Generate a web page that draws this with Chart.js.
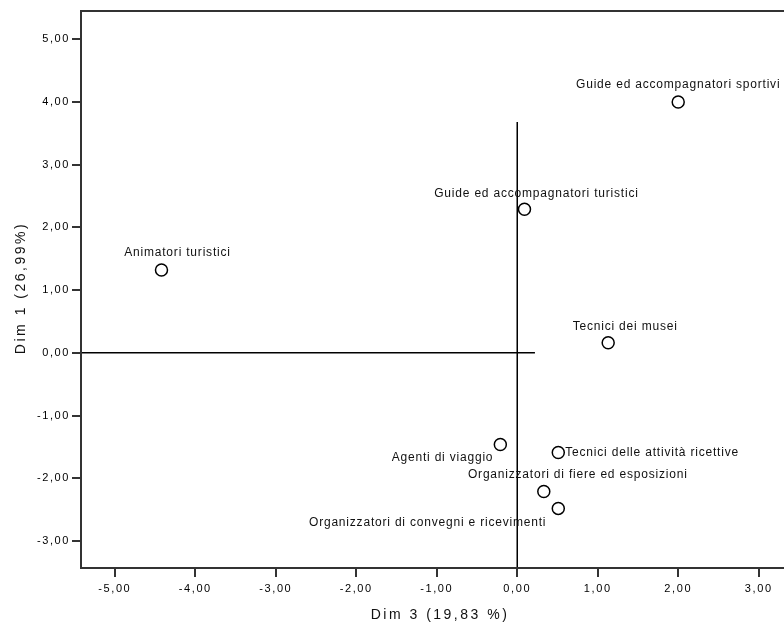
<!DOCTYPE html>
<html>
<head>
<meta charset="utf-8">
<script src="https://cdn.jsdelivr.net/npm/chart.js@4.4.0/dist/chart.umd.min.js"></script>
<style>
  html, body { margin: 0; padding: 0; background: #fff; overflow: hidden; }
  #wrap { width: 800px; height: 624px; }
</style>
</head>
<body>
<div id="wrap"><canvas id="scatter" width="800" height="624"></canvas></div>
<script>
// categories and coordinates (Dim 3 on x, Dim 1 on y)
const categories = [
  'Guide ed accompagnatori sportivi',
  'Guide ed accompagnatori turistici',
  'Animatori turistici',
  'Tecnici dei musei',
  'Agenti di viaggio',
  'Tecnici delle attività ricettive',
  'Organizzatori di fiere ed esposizioni',
  'Organizzatori di convegni e ricevimenti'
];
const dim3 = [2.00, 0.09, -4.42, 1.13, -0.21, 0.51, 0.33, 0.51];
const dim1 = [4.00, 2.29, 1.32, 0.16, -1.46, -1.59, -2.21, -2.48];

const xTicks = [-5, -4, -3, -2, -1, 0, 1, 2, 3];
const yTicks = [-3, -2, -1, 0, 1, 2, 3, 4, 5];
const xRange = [-5.42, 3.42];
const yRange = [-3.43, 5.45];

// reference lines through the origin
const refH = [[-5.42, 0], [0.22, 0]];
const refV = [[0, 3.68], [0, -3.43]];

const xTitle = 'Dim 3 (19,83 %)';
const yTitle = 'Dim 1 (26,99%)';

// label placement: [dx, dy, align]
const labelPlace = [
  [0, -17, 'center'],
  [12, -16, 'center'],
  [16, -17, 'center'],
  [17, -16, 'center'],
  [-7, 13, 'right'],
  [7, 0, 'left'],
  [34, -17, 'center'],
  [-12, 14, 'right']
];

const fmt = v => v.toFixed(2).replace('.', ',');
const FONT = '"Liberation Sans", Arial, sans-serif';

// the original uses a wide, loosely spaced font for the tick labels
const spacing = {
  id: 'spacing',
  beforeUpdate(chart) { chart.ctx.letterSpacing = '1.6px'; },
  beforeDraw(chart) { chart.ctx.letterSpacing = '1.6px'; }
};

const pointLabels = {
  id: 'pointLabels',
  afterDatasetsDraw(chart) {
    const ctx = chart.ctx;
    const meta = chart.getDatasetMeta(2);
    ctx.save();
    ctx.font = '12px ' + FONT;
    ctx.letterSpacing = '0.8px';
    ctx.fillStyle = '#111';
    ctx.textBaseline = 'middle';
    meta.data.forEach((pt, i) => {
      const p = labelPlace[i];
      ctx.textAlign = p[2];
      ctx.fillText(categories[i], pt.x + p[0], pt.y + p[1]);
    });
    ctx.restore();
  }
};

const frame = {
  id: 'frame',
  afterDraw(chart) {
    const { ctx, chartArea: a } = chart;
    ctx.save();
    ctx.strokeStyle = '#333';
    ctx.lineWidth = 2;
    ctx.strokeRect(a.left, a.top, a.right - a.left, a.bottom - a.top);
    ctx.font = '14px ' + FONT;
    ctx.letterSpacing = '2.5px';
    ctx.fillStyle = '#111';
    ctx.textAlign = 'center';
    ctx.textBaseline = 'middle';
    ctx.fillText(xTitle, 440, 615);
    ctx.translate(21, 288);
    ctx.rotate(-Math.PI / 2);
    ctx.fillText(yTitle, 0, 0);
    ctx.restore();
  }
};

const toPts = arr => arr.map(p => ({ x: p[0], y: p[1] }));

new Chart(document.getElementById('scatter').getContext('2d'), {
  type: 'scatter',
  data: {
    datasets: [
      {
        data: toPts(refH), showLine: true, pointRadius: 0,
        borderColor: '#000', borderWidth: 1.5
      },
      {
        data: toPts(refV), showLine: true, pointRadius: 0,
        borderColor: '#000', borderWidth: 1.5
      },
      {
        data: dim3.map((x, i) => ({ x: x, y: dim1[i] })),
        pointRadius: 6, pointBackgroundColor: '#fff',
        pointBorderColor: '#000', pointBorderWidth: 1.5
      }
    ]
  },
  options: {
    responsive: false,
    animation: false,
    layout: { padding: { top: 11, right: 5, left: 0, bottom: 0 } },
    plugins: { legend: { display: false }, tooltip: { enabled: false } },
    scales: {
      x: {
        type: 'linear', min: xRange[0], max: xRange[1],
        afterBuildTicks: s => { s.ticks = xTicks.map(v => ({ value: v })); },
        afterFit: s => { s.height = 56; },
        grid: { drawOnChartArea: false, tickLength: 9, tickColor: '#333', lineWidth: 2 },
        border: { display: false },
        ticks: { callback: v => fmt(v), font: { family: FONT, size: 11 }, color: '#000', padding: 5, maxRotation: 0 }
      },
      y: {
        type: 'linear', min: yRange[0], max: yRange[1],
        afterBuildTicks: s => { s.ticks = yTicks.map(v => ({ value: v })); },
        afterFit: s => { s.width = 81; },
        grid: { drawOnChartArea: false, tickLength: 9, tickColor: '#333', lineWidth: 2 },
        border: { display: false },
        ticks: { callback: v => fmt(v), font: { family: FONT, size: 11 }, color: '#000', padding: 2 }
      }
    }
  },
  plugins: [spacing, pointLabels, frame]
});
</script>
</body>
</html>
